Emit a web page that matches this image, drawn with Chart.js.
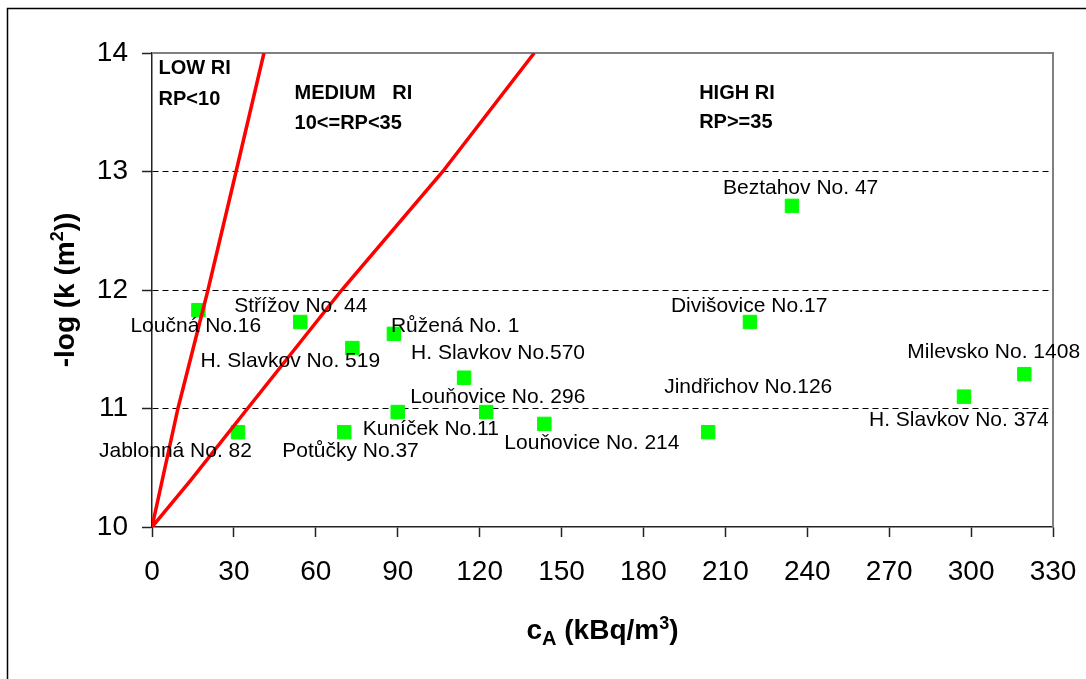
<!DOCTYPE html>
<html>
<head>
<meta charset="utf-8">
<title>Radon index</title>
<script src="https://cdn.jsdelivr.net/npm/chart.js@4.4.0/dist/chart.umd.min.js"></script>
<style>
  html, body { margin: 0; padding: 0; background: #fff; }
  canvas { display: block; }
</style>
</head>
<body>
<canvas id="riChart" width="1086" height="679"></canvas>
<script>
// Sites: radon concentration c_A (kBq/m3) vs -log k (m2)
const siteNames = [
  "Loučná No.16", "Střížov No. 44", "Růžená No. 1", "H. Slavkov No. 519",
  "H. Slavkov No.570", "Louňovice No. 296", "Kuníček No.11", "Jablonná No. 82",
  "Potůčky No.37", "Louňovice No. 214", "Jindřichov No.126", "H. Slavkov No. 374",
  "Milevsko No. 1408", "Beztahov No. 47", "Divišovice No.17",
];
const siteConc = [17.0, 54.3, 88.6, 73.4, 114.3, 122.4, 90.0, 31.5, 70.4, 143.7, 203.7, 297.4, 319.5, 234.4, 219.0];
const siteLogK = [11.83, 11.73, 11.63, 11.51, 11.26, 10.97, 10.97, 10.8, 10.8, 10.87, 10.8, 11.1, 11.29, 12.71, 11.73];

// Category borders (RP = 10 and RP = 35)
const lowBorderX = [0, 9.5, 20.5, 30.8, 41];
const lowBorderY = [10, 11, 12, 13, 14];
const medBorderX = [0, 14, 35, 69.5, 106.5, 140];
const medBorderY = [10, 10.39, 11, 12, 13, 14];

// Axis ticks
const xTickValues = [0, 30, 60, 90, 120, 150, 180, 210, 240, 270, 300, 330];
const yTickValues = [10, 11, 12, 13, 14];

// Category captions
const regionLines = [
  ["LOW RI", "RP<10"],
  ["MEDIUM   RI", "10<=RP<35"],
  ["HIGH RI", "RP>=35"],
];
const regionX = [2.4, 52.2, 200.4];
const regionY = [[13.82, 13.565], [13.61, 13.36], [13.61, 13.37]];

// Label placement relative to its point, in px
const labelOffsets = [
  [-68, 22], [-66, -10], [-3, -2], [-152, 19], [-53, -19], [-76, -9], [-35, 23],
  [-139, 25], [-62, 25], [-40, 25], [-44, -39], [-95, 29], [-117, -16], [-69, -12], [-79, -10],
];

const FONT = "'Liberation Sans', Arial, sans-serif";

const toPoints = (xs, ys) => xs.map((x, i) => ({ x, y: ys[i] }));

// Draw text with sub/superscript parts, centred on x
const drawRich = (ctx, parts, x, y) => {
  let total = 0;
  parts.forEach((p) => {
    ctx.font = `bold ${p.size}px ${FONT}`;
    p.w = ctx.measureText(p.t).width;
    total += p.w;
  });
  let cx = x - total / 2;
  parts.forEach((p) => {
    ctx.font = `bold ${p.size}px ${FONT}`;
    ctx.fillText(p.t, cx, y + p.dy);
    cx += p.w;
  });
};

const framePlugin = {
  id: "frame",
  beforeDraw(chart) {
    const ctx = chart.ctx;
    ctx.save();
    ctx.fillStyle = "#fff";
    ctx.fillRect(0, 0, chart.width, chart.height);
    ctx.strokeStyle = "#000";
    ctx.lineWidth = 1.5;
    ctx.strokeRect(7.5, 8.5, chart.width + 50, chart.height + 50);
    ctx.restore();
  },
  beforeDatasetsDraw(chart) {
    const { left, top, right, bottom } = chart.chartArea;
    const ctx = chart.ctx;
    ctx.save();
    ctx.strokeStyle = "#808080";
    ctx.lineWidth = 2;
    ctx.beginPath();
    ctx.moveTo(left, top);
    ctx.lineTo(right, top);
    ctx.lineTo(right, bottom);
    ctx.stroke();
    ctx.restore();
  },
  afterDatasetsDraw(chart) {
    const ctx = chart.ctx;
    const xs = chart.scales.x;
    const ys = chart.scales.y;
    ctx.save();
    ctx.fillStyle = "#000";
    ctx.textAlign = "left";
    ctx.textBaseline = "alphabetic";

    // site names
    ctx.font = `21px ${FONT}`;
    const meta = chart.getDatasetMeta(2);
    meta.data.forEach((pt, i) => {
      const [dx, dy] = labelOffsets[i];
      ctx.fillText(siteNames[i], pt.x + dx, pt.y + dy);
    });

    // category captions
    ctx.font = `bold 20px ${FONT}`;
    regionLines.forEach((lines, i) => {
      lines.forEach((line, j) => {
        ctx.fillText(line, xs.getPixelForValue(regionX[i]), ys.getPixelForValue(regionY[i][j]));
      });
    });

    // axis titles
    drawRich(ctx, [
      { t: "c", size: 28, dy: 0 },
      { t: "A", size: 20, dy: 6 },
      { t: " (kBq/m", size: 28, dy: 0 },
      { t: "3", size: 18, dy: -10 },
      { t: ")", size: 28, dy: 0 },
    ], (chart.chartArea.left + chart.chartArea.right) / 2, 639);

    ctx.translate(74, (chart.chartArea.top + chart.chartArea.bottom) / 2);
    ctx.rotate(-Math.PI / 2);
    drawRich(ctx, [
      { t: "-log (k (m", size: 28, dy: 0 },
      { t: "2", size: 18, dy: -11 },
      { t: "))", size: 28, dy: 0 },
    ], 0, 0);
    ctx.restore();
  },
};

const ctx = document.getElementById("riChart").getContext("2d");
new Chart(ctx, {
  type: "scatter",
  data: {
    datasets: [
      {
        data: toPoints(lowBorderX, lowBorderY),
        showLine: true,
        borderColor: "#ff0000",
        borderWidth: 3.5,
        pointRadius: 0,
        tension: 0,
      },
      {
        data: toPoints(medBorderX, medBorderY),
        showLine: true,
        borderColor: "#ff0000",
        borderWidth: 3.5,
        pointRadius: 0,
        tension: 0,
      },
      {
        data: toPoints(siteConc, siteLogK),
        pointStyle: "rect",
        pointRadius: 9.5,
        backgroundColor: "#00ff00",
        borderColor: "#00ff00",
        borderWidth: 1,
      },
    ],
  },
  options: {
    responsive: false,
    animation: false,
    devicePixelRatio: 1,
    layout: { padding: { top: 53, right: 33, bottom: 0, left: 0 } },
    plugins: {
      legend: { display: false },
      tooltip: { enabled: false },
    },
    scales: {
      x: {
        min: 0,
        max: 330,
        afterBuildTicks: (scale) => {
          scale.ticks = xTickValues.map((value) => ({ value }));
        },
        afterFit: (scale) => {
          scale.height = 152;
          // let the layout padding decide the right edge
          scale.paddingLeft = 0;
          scale.paddingRight = 0;
        },
        grid: {
          drawOnChartArea: false,
          drawTicks: true,
          tickLength: 10,
          tickColor: "#222",
          tickWidth: 1.5,
        },
        border: { color: "#222", width: 1.5 },
        ticks: {
          color: "#000",
          padding: 18,
          maxRotation: 0,
          font: { family: FONT, size: 28 },
        },
      },
      y: {
        min: 10,
        max: 14,
        afterBuildTicks: (scale) => {
          scale.ticks = yTickValues.map((value) => ({ value }));
        },
        afterFit: (scale) => {
          scale.width = 152;
        },
        grid: {
          color: (c) => (c.tick && (c.tick.value === 10 || c.tick.value === 14) ? "rgba(0,0,0,0)" : "#000"),
          lineWidth: 1,
          tickLength: 10,
          tickColor: "#222",
          tickWidth: 1.5,
        },
        border: { color: "#222", width: 1.5, dash: [6, 4] },
        ticks: {
          color: "#000",
          padding: 14,
          font: { family: FONT, size: 28 },
        },
      },
    },
  },
  plugins: [framePlugin],
});
</script>
</body>
</html>
